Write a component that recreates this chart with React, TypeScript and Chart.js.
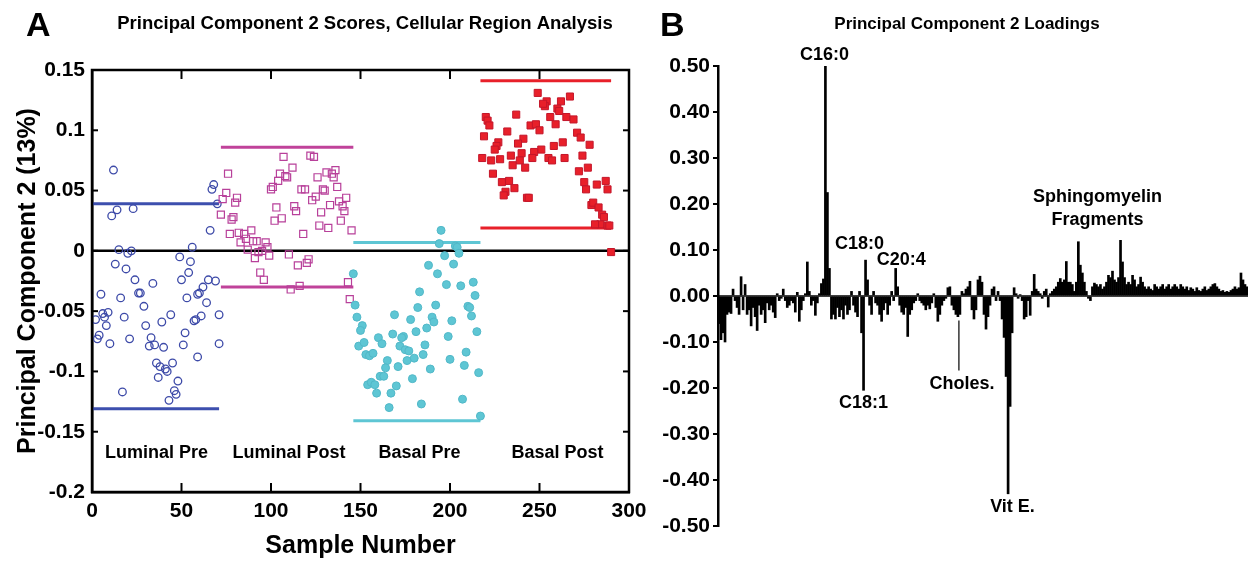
import React, { useEffect, useRef } from "react";
import { Chart, registerables } from "chart.js";
Chart.register(...registerables);

const FONT = 'Arial, "Liberation Sans", Helvetica, sans-serif';

// ---------------- Panel A data ----------------
const groupNames = ["Luminal Pre", "Luminal Post", "Basal Pre", "Basal Post"];
const groupLabelSample = [36, 110, 183, 260];
const groupLabelScore = -0.168;

const luminalPre: [number, number][] = [
  [12, 0.067], [11, 0.029], [14, 0.034], [23, 0.035], [68, 0.055], [67, 0.051], [66, 0.017], [70, 0.039],
  [15, 0.001], [20, -0.002], [22, 0.0], [49, -0.005], [56, 0.003],
  [13, -0.011], [19, -0.015], [55, -0.009], [54, -0.018], [24, -0.024], [34, -0.027], [50, -0.024], [65, -0.024], [69, -0.025],
  [62, -0.03], [60, -0.035], [59, -0.036], [26, -0.035], [27, -0.035], [5, -0.036], [16, -0.039], [53, -0.039], [29, -0.046], [64, -0.043],
  [9, -0.051], [6, -0.052], [7, -0.055], [2, -0.057], [8, -0.062], [18, -0.055], [44, -0.053], [39, -0.059], [30, -0.062], [58, -0.057],
  [57, -0.058], [61, -0.054], [71, -0.053],
  [4, -0.07], [3, -0.073], [10, -0.077], [21, -0.073], [33, -0.072], [32, -0.079], [35, -0.078], [40, -0.08], [52, -0.068], [51, -0.078],
  [71, -0.077], [59, -0.088],
  [36, -0.093], [38, -0.096], [41, -0.098], [42, -0.1], [45, -0.093], [37, -0.105], [48, -0.108], [17, -0.117], [46, -0.116], [47, -0.119], [43, -0.124],
];

const luminalPost: [number, number][] = [
  [76, 0.064], [75, 0.048], [73, 0.043], [81, 0.044], [80, 0.04], [72, 0.03], [78, 0.026], [79, 0.028], [77, 0.014],
  [82, 0.015], [85, 0.014], [83, 0.007], [86, 0.01], [89, 0.017], [90, 0.008], [92, 0.008], [97, 0.007],
  [107, 0.078], [112, 0.069], [108, 0.062], [109, 0.061], [104, 0.058], [100, 0.051], [101, 0.053], [105, 0.064], [103, 0.036],
  [102, 0.025], [106, 0.027], [113, 0.037], [114, 0.033], [118, 0.014],
  [122, 0.079], [124, 0.078], [126, 0.061], [117, 0.051], [119, 0.051], [123, 0.042], [125, 0.045], [128, 0.032], [127, 0.021], [132, 0.019],
  [131, 0.065], [134, 0.064], [136, 0.067], [135, 0.061], [130, 0.05], [129, 0.051], [137, 0.053], [133, 0.038], [138, 0.041],
  [140, 0.037], [141, 0.033], [142, 0.044], [139, 0.025], [145, 0.017],
  [87, 0.001], [93, -0.001], [95, 0.0], [98, 0.003], [99, -0.004], [91, -0.006], [110, -0.003], [115, -0.012], [120, -0.01], [121, -0.007],
  [94, -0.018], [96, -0.024], [111, -0.032], [116, -0.029], [143, -0.026], [144, -0.04],
];

const basalPre: [number, number][] = [
  [195, 0.017], [194, 0.006], [203, 0.004], [204, 0.003], [197, -0.004], [205, -0.002],
  [188, -0.012], [193, -0.019], [202, -0.011], [146, -0.019], [198, -0.028], [206, -0.029], [213, -0.026], [214, -0.037], [183, -0.034],
  [147, -0.045], [148, -0.055], [151, -0.062], [150, -0.066], [182, -0.047], [192, -0.045], [210, -0.046], [211, -0.047], [212, -0.054],
  [169, -0.053], [178, -0.057], [190, -0.055], [191, -0.059], [201, -0.058], [187, -0.064], [181, -0.067], [168, -0.069], [174, -0.071],
  [173, -0.072], [215, -0.067], [199, -0.071],
  [149, -0.079], [152, -0.076], [160, -0.072], [162, -0.077], [172, -0.079], [175, -0.082], [177, -0.083], [186, -0.078],
  [153, -0.086], [155, -0.087], [157, -0.085], [185, -0.086], [180, -0.089], [176, -0.091], [209, -0.084], [200, -0.09], [165, -0.091],
  [164, -0.097], [171, -0.096], [208, -0.095], [189, -0.098], [161, -0.104], [163, -0.104], [179, -0.106], [216, -0.101],
  [154, -0.111], [156, -0.109], [158, -0.111], [170, -0.112], [159, -0.118], [167, -0.118], [184, -0.127], [207, -0.123], [166, -0.13], [217, -0.137],
];

const basalPost: [number, number][] = [
  [249, 0.131], [254, 0.124], [253, 0.12], [252, 0.122], [262, 0.124], [267, 0.128], [260, 0.118], [261, 0.116], [237, 0.113],
  [220, 0.111], [221, 0.108], [222, 0.104], [256, 0.111], [265, 0.111], [269, 0.109], [259, 0.105], [245, 0.104], [248, 0.105], [250, 0.1],
  [232, 0.099], [271, 0.098], [273, 0.094], [219, 0.095], [241, 0.093], [238, 0.089], [263, 0.09], [258, 0.087], [278, 0.088], [227, 0.09], [226, 0.087],
  [251, 0.084], [247, 0.082], [225, 0.084], [240, 0.081], [274, 0.079], [218, 0.077], [223, 0.075], [228, 0.076], [234, 0.079], [239, 0.075],
  [246, 0.077], [255, 0.077], [257, 0.075], [264, 0.077],
  [235, 0.071], [242, 0.069], [277, 0.069], [272, 0.066], [224, 0.064], [229, 0.057], [233, 0.058], [236, 0.052],
  [275, 0.057], [276, 0.051], [282, 0.055], [287, 0.058], [288, 0.051], [231, 0.049], [230, 0.046], [243, 0.044], [244, 0.044],
  [279, 0.038], [280, 0.04], [283, 0.036], [285, 0.03], [286, 0.028], [284, 0.022], [281, 0.022], [288, 0.021], [289, 0.021], [290, -0.001],
];

const limitStart = [0, 72, 146, 217];
const limitEnd = [71, 146, 217, 290];
const upperLimits = [0.039, 0.086, 0.007, 0.141];
const lowerLimits = [-0.131, -0.03, -0.141, 0.019];
const groupColors = ["#3d4fae", "#c0429a", "#5ec6d4", "#e8202a"];

// ---------------- Panel B data ----------------
const loadings: number[] = [
  -0.06, -0.095, -0.08, -0.1, -0.04, -0.035, -0.038, 0.015, -0.01, -0.025,
  -0.04, 0.042, -0.03, 0.025, -0.04, -0.03, -0.065, -0.025, -0.045, -0.075,
  -0.02, -0.04, -0.03, -0.058, -0.015, -0.03, -0.02, -0.035, -0.047, 0.005,
  -0.01, -0.005, 0.015, -0.01, -0.025, -0.02, -0.01, -0.015, -0.035, 0.008,
  -0.055, -0.03, -0.01, 0.005, 0.074, 0.01, -0.02, -0.01, -0.042, -0.015,
  0.005, 0.027, 0.037, 0.5, 0.225, 0.06, -0.05, -0.04, -0.05, -0.025,
  -0.045, -0.03, -0.05, -0.02, -0.04, -0.03, 0.01, -0.02, -0.035, -0.045,
  0.01, -0.08, -0.205, 0.078, 0.035, -0.02, -0.04, 0.01, -0.015, -0.02,
  -0.04, -0.055, -0.03, -0.015, -0.04, -0.02, 0.01, -0.01, 0.06, 0.02,
  -0.02, -0.035, -0.04, -0.025, -0.088, -0.04, -0.03, -0.015, -0.01, 0.005,
  -0.01, -0.015, -0.02, -0.03, -0.02, -0.028, -0.015, 0.005, -0.025, -0.055,
  -0.04, -0.02, -0.01, -0.005, 0.018, 0.02, -0.02, -0.03, -0.04, -0.045,
  -0.04, 0.01, 0.005, 0.015, 0.02, 0.032, -0.03, -0.05, -0.03, 0.035,
  0.043, 0.03, -0.04, -0.072, -0.045, -0.02, 0.015, 0.02, -0.01, 0.01,
  -0.01, -0.05, -0.09, -0.175, -0.43, -0.24, -0.08, 0.018, 0.005, -0.005,
  0.003, -0.01, -0.05, -0.045, -0.01, -0.042, 0.01, 0.047, 0.015, 0.01,
  0.005, -0.005, 0.01, 0.015, -0.024, 0.005, 0.01, 0.015, 0.02, 0.03,
  0.038, 0.03, 0.035, 0.075, 0.03, 0.03, 0.025, 0.01, 0.03, 0.118,
  0.067, 0.05, 0.03, 0.01, -0.005, -0.01, 0.02, 0.028, 0.025, 0.02,
  0.025, 0.015, 0.02, 0.03, 0.045, 0.04, 0.054, 0.035, 0.03, 0.04,
  0.121, 0.074, 0.04, 0.025, 0.03, 0.025, 0.045, 0.035, 0.02, 0.025,
  0.041, 0.03, 0.02, 0.015, 0.02, 0.015, 0.012, 0.025, 0.02, 0.015,
  0.02, 0.025, 0.015, 0.02, 0.025, 0.015, 0.02, 0.025, 0.02, 0.015,
  0.025, 0.02, 0.015, 0.02, 0.012, 0.018, 0.015, 0.01, 0.018, 0.012,
  0.01, 0.015, 0.02, 0.012, 0.015, 0.02, 0.025, 0.027, 0.02, 0.015,
  0.01, 0.012, 0.008, 0.01, 0.008, 0.012, 0.015, 0.02, 0.015, 0.018,
  0.05, 0.035, 0.025, 0.02,
];
const loadingIndex = loadings.map((_, i) => String(i + 1));

const annotationTexts = ["C16:0", "C18:0", "C20:4", "C18:1", "Choles.", "Vit E.", "Sphingomyelin", "Fragments"];

const PANEL_A_W = 655;
const PANEL_B_W = 1248 - PANEL_A_W;
const H = 561;

const frameA = {
  id: "frameA",
  afterDraw(chart: any) {
    const { ctx, chartArea, scales } = chart;
    const { left, right, top, bottom } = chartArea;
    const x = scales.x;
    const y = scales.y;
    ctx.save();
    ctx.strokeStyle = "#000";
    ctx.lineWidth = 2.5;
    ctx.strokeRect(left, top, right - left, bottom - top);
    ctx.lineWidth = 2;
    const line = (x1: number, y1: number, x2: number, y2: number) => {
      ctx.beginPath();
      ctx.moveTo(x1, y1);
      ctx.lineTo(x2, y2);
      ctx.stroke();
    };
    x.ticks.forEach((t: any) => {
      const px = x.getPixelForValue(t.value);
      line(px, bottom, px, bottom - 9);
      line(px, top, px, top + 9);
    });
    y.ticks.forEach((t: any) => {
      const py = y.getPixelForValue(t.value);
      line(left, py, left + 6, py);
      line(right, py, right - 6, py);
    });
    ctx.fillStyle = "#000";
    ctx.textAlign = "center";
    ctx.textBaseline = "middle";
    ctx.font = `bold 18px ${FONT}`;
    groupNames.forEach((name, i) => {
      ctx.fillText(name, x.getPixelForValue(groupLabelSample[i]), y.getPixelForValue(groupLabelScore));
    });
    ctx.font = `bold 18.5px ${FONT}`;
    ctx.fillText("Principal Component 2 Scores, Cellular Region Analysis", 365, 24);
    ctx.textAlign = "left";
    ctx.font = `bold 34px ${FONT}`;
    ctx.fillText("A", 26, 27);
    ctx.restore();
  },
};

const annotB = {
  id: "annotB",
  afterDraw(chart: any) {
    const { ctx, chartArea, scales } = chart;
    const x = scales.x;
    const y = scales.y;
    const xi = (idx: number) => x.getPixelForValue(0) + idx * (x.getPixelForValue(1) - x.getPixelForValue(0));
    ctx.save();
    ctx.strokeStyle = "#000";
    ctx.lineWidth = 1.5;
    ctx.beginPath();
    ctx.moveTo(chartArea.left, y.getPixelForValue(0));
    ctx.lineTo(chartArea.right, y.getPixelForValue(0));
    ctx.stroke();
    // pointer for cholesterol
    ctx.lineWidth = 1.2;
    ctx.beginPath();
    ctx.moveTo(xi(119.5), y.getPixelForValue(-0.053));
    ctx.lineTo(xi(119.5), y.getPixelForValue(-0.162));
    ctx.stroke();
    ctx.fillStyle = "#000";
    ctx.textAlign = "center";
    ctx.textBaseline = "middle";
    ctx.font = `bold 18px ${FONT}`;
    const pos: [number, number][] = [
      [52.5, 0.523], [70, 0.114], [90.75, 0.078], [72, -0.233], [121, -0.192], [146.2, -0.459], [188.5, 0.215], [188.5, 0.165],
    ];
    annotationTexts.forEach((t, i) => ctx.fillText(t, xi(pos[i][0]), y.getPixelForValue(pos[i][1])));
    ctx.font = `bold 17px ${FONT}`;
    ctx.fillText("Principal Component 2 Loadings", 312, 24);
    ctx.textAlign = "left";
    ctx.font = `bold 34px ${FONT}`;
    ctx.fillText("B", 5, 27);
    ctx.restore();
  },
};

const tickFont = { family: FONT, size: 21, weight: "bold" as const };

export default function App() {
  const refA = useRef<HTMLCanvasElement>(null);
  const refB = useRef<HTMLCanvasElement>(null);

  useEffect(() => {
    document.body.style.margin = "0";
    document.body.style.background = "#fff";
    const toXY = (arr: [number, number][]) => arr.map(([x, y]) => ({ x, y }));
    const limitSets: any[] = [];
    groupColors.forEach((c, i) => {
      [upperLimits[i], lowerLimits[i]].forEach((v) => {
        limitSets.push({
          data: [{ x: limitStart[i], y: v }, { x: limitEnd[i], y: v }],
          showLine: true,
          borderColor: c,
          borderWidth: 3,
          pointRadius: 0,
        });
      });
    });
    const chartA = new Chart(refA.current as HTMLCanvasElement, {
      type: "scatter",
      data: {
        datasets: [
          { data: toXY(basalPost), pointStyle: "rect", pointRadius: 5, backgroundColor: "#e8202a", borderColor: "#c4162a", borderWidth: 1 },
          { data: toXY(basalPre), pointStyle: "circle", pointRadius: 4, backgroundColor: "#5ec6d4", borderColor: "#52b8c8", borderWidth: 1 },
          { data: toXY(luminalPost), pointStyle: "rect", pointRadius: 5, backgroundColor: "rgba(0,0,0,0)", borderColor: "#b8409a", borderWidth: 1.2 },
          { data: toXY(luminalPre), pointStyle: "circle", pointRadius: 3.8, backgroundColor: "rgba(0,0,0,0)", borderColor: "#3d4aa8", borderWidth: 1.3 },
          ...limitSets,
          { data: [{ x: 0, y: 0 }, { x: 300, y: 0 }], showLine: true, borderColor: "#000", borderWidth: 2.5, pointRadius: 0 },
        ],
      },
      options: {
        animation: false,
        responsive: false,
        layout: { padding: { top: 70, right: 26, left: 0, bottom: 0 } },
        plugins: { legend: { display: false }, tooltip: { enabled: false } },
        scales: {
          x: {
            type: "linear",
            min: 0,
            max: 300,
            ticks: { stepSize: 50, font: tickFont, color: "#000", padding: 7, maxRotation: 0 },
            grid: { display: false, drawTicks: false },
            border: { display: true, color: "#000", width: 2.5 },
            title: { display: true, text: "Sample Number", font: { family: FONT, size: 25, weight: "bold" }, color: "#000", padding: { top: 0, bottom: 0 } },
            afterFit: (s: any) => { s.height = 69; },
          },
          y: {
            min: -0.2,
            max: 0.15,
            ticks: {
              stepSize: 0.05,
              font: tickFont,
              color: "#000",
              padding: 7,
              callback: (v: any) => String(Math.round(Number(v) * 100) / 100),
            },
            grid: { display: false, drawTicks: false },
            border: { display: true, color: "#000", width: 2.5 },
            title: { display: true, text: "Principal Component 2 (13%)", font: { family: FONT, size: 25, weight: "bold" }, color: "#000", padding: { top: 13, bottom: 0 } },
            afterFit: (s: any) => { s.width = 92; },
          },
        },
      } as any,
      plugins: [frameA],
    });

    const chartB = new Chart(refB.current as HTMLCanvasElement, {
      type: "bar",
      data: {
        labels: loadingIndex,
        datasets: [{ data: loadings, backgroundColor: "#000", borderWidth: 0, barPercentage: 1, categoryPercentage: 1 }],
      },
      options: {
        animation: false,
        responsive: false,
        layout: { padding: { top: 66, right: 0, left: 0, bottom: 35 } },
        plugins: { legend: { display: false }, tooltip: { enabled: false } },
        scales: {
          x: { display: false },
          y: {
            min: -0.5,
            max: 0.5,
            ticks: {
              stepSize: 0.1,
              font: tickFont,
              color: "#000",
              padding: 3,
              callback: (v: any) => (Math.abs(Number(v)) < 1e-9 ? "0.00" : Number(v).toFixed(2)),
            },
            grid: { drawOnChartArea: false, drawTicks: true, tickLength: 5, color: "#000", lineWidth: 2 },
            border: { display: true, color: "#000", width: 2.5 },
            afterFit: (s: any) => { s.width = 63; },
          },
        },
      } as any,
      plugins: [annotB],
    });
    return () => {
      chartA.destroy();
      chartB.destroy();
    };
  }, []);

  return (
    <div style={{ position: "relative", width: 1248, height: H, background: "#fff" }}>
      <canvas ref={refA} width={PANEL_A_W} height={H} style={{ position: "absolute", left: 0, top: 0, width: PANEL_A_W, height: H }} />
      <canvas ref={refB} width={PANEL_B_W} height={H} style={{ position: "absolute", left: PANEL_A_W, top: 0, width: PANEL_B_W, height: H }} />
    </div>
  );
}
